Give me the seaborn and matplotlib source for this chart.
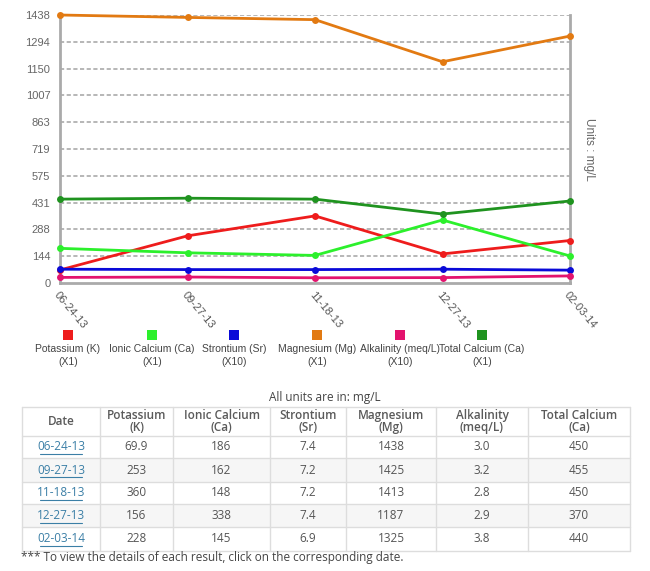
import matplotlib
matplotlib.use("Agg")
import matplotlib.pyplot as plt
from matplotlib.patches import Rectangle
import seaborn as sns
import pandas as pd
import numpy as np

dates = ['06-24-13', '09-27-13', '11-18-13', '12-27-13', '02-03-14']
potassium = [69.9, 253, 360, 156, 228]
ionic_ca = [186, 162, 148, 338, 145]
strontium = [7.4, 7.2, 7.2, 7.4, 6.9]
magnesium = [1438, 1425, 1413, 1187, 1325]
alkalinity = [3.0, 3.2, 2.8, 2.9, 3.8]
total_ca = [450, 455, 450, 370, 440]

series_names = ['Potassium (K)', 'Ionic Calcium (Ca)', 'Strontium (Sr)',
                'Magnesium (Mg)', 'Alkalinity (meq/L)', 'Total Calcium (Ca)']
multipliers = [1, 1, 10, 1, 10, 1]
series_colors = ['#ee1c1c', '#2cf02c', '#0a0ad8', '#e27a12', '#e3136e', '#1f931f']
ytick_labels = ['0', '144', '288', '431', '575', '719', '863', '1007', '1150', '1294', '1438']
ymax = 1438

headers = ['Date', 'Potassium\n(K)', 'Ionic Calcium\n(Ca)', 'Strontium\n(Sr)',
           'Magnesium\n(Mg)', 'Alkalinity\n(meq/L)', 'Total Calcium\n(Ca)']
table_cols = [
    ['69.9', '253', '360', '156', '228'],
    ['186', '162', '148', '338', '145'],
    ['7.4', '7.2', '7.2', '7.4', '6.9'],
    ['1438', '1425', '1413', '1187', '1325'],
    ['3.0', '3.2', '2.8', '2.9', '3.8'],
    ['450', '455', '450', '370', '440'],
]

# long frame for seaborn
values = [potassium, ionic_ca, strontium, magnesium, alkalinity, total_ca]
rows = []
for name, mult, vals in zip(series_names, multipliers, values):
    for i, v in enumerate(vals):
        rows.append({'idx': i, 'value': v * mult, 'series': name})
df = pd.DataFrame(rows)

sns.set_style("white")
plt.rcParams['font.family'] = ['Liberation Sans', 'DejaVu Sans']

W, H = 650, 571
fig = plt.figure(figsize=(W / 100, H / 100), dpi=100)
x0, x1, y0, y1 = 60, 570, 15, 283
ax = fig.add_axes([x0 / W, 1 - y1 / H, (x1 - x0) / W, (y1 - y0) / H])

sns.lineplot(data=df, x='idx', y='value', hue='series', hue_order=series_names,
             palette=dict(zip(series_names, series_colors)), marker='o',
             markersize=5, markeredgewidth=0, linewidth=2, ax=ax, legend=False)
for ln in ax.lines:
    ln.set_clip_on(False)
    ln.set_zorder(5)

ax.set_xlim(0, len(dates) - 1)
ax.set_ylim(0, ymax)
yt = np.linspace(0, ymax, len(ytick_labels))
ax.set_yticks(yt)
ax.set_yticklabels(ytick_labels, color='#666666', fontsize=8)
for y in yt[1:]:
    ax.axhline(y, color='#aaaaaa', lw=1.2, ls=(0, (2.5, 1.5)), zorder=1)
ax.set_xticks(range(len(dates)))
ax.set_xticklabels(dates, rotation=-50, ha='left', va='top', rotation_mode='anchor',
                   color='#555555', fontsize=8)
ax.tick_params(axis='both', length=0, pad=7)
ax.tick_params(axis='x', pad=5)
ax.set_xlabel('')
ax.set_ylabel('')
for side in ['left', 'bottom', 'right']:
    ax.spines[side].set_color('#aaaaaa')
    ax.spines[side].set_linewidth(2)
ax.spines['top'].set_visible(False)
ax.yaxis.set_label_position('right')
ax.set_ylabel('Units : mg/L', rotation=-90, color='#666666', fontsize=8.5, labelpad=18)

# overlay in pixel coordinates for legend and table
ov = fig.add_axes([0, 0, 1, 1])
ov.set_xlim(0, W)
ov.set_ylim(H, 0)
ov.axis('off')

leg_x = [68, 152, 234, 317, 400, 482]
for lx, name, mult, col in zip(leg_x, series_names, multipliers, series_colors):
    ov.add_patch(Rectangle((lx - 5, 330), 10, 10, color=col, lw=0))
    ov.text(lx, 349, name, ha='center', va='center', fontsize=7.5, color='#444444')
    ov.text(lx, 362, '(X%d)' % mult, ha='center', va='center', fontsize=7.5, color='#444444')

tfont = ['Open Sans', 'DejaVu Sans']
ov.text(325, 398, 'All units are in: mg/L', ha='center', va='center', fontsize=8.5,
        color='#444444', family=tfont)

col_edges = [22, 100, 173, 270, 346, 436, 528, 630]
row_edges = [407, 436, 458, 482, 504, 527, 551]
for r in range(len(dates)):
    if r % 2 == 1:
        ov.add_patch(Rectangle((col_edges[0], row_edges[r + 1]), col_edges[-1] - col_edges[0],
                               row_edges[r + 2] - row_edges[r + 1], color='#f6f6f6', lw=0))
for y in row_edges:
    ov.plot([col_edges[0], col_edges[-1]], [y, y], color='#dddddd', lw=1)
for x in col_edges:
    ov.plot([x, x], [row_edges[0], row_edges[-1]], color='#dddddd', lw=1)

for c, htxt in enumerate(headers):
    cx = (col_edges[c] + col_edges[c + 1]) / 2
    ov.text(cx, (row_edges[0] + row_edges[1]) / 2, htxt, ha='center', va='center',
            fontsize=8.5, fontweight='semibold', color='#5a5a5a', linespacing=0.95, family=tfont)

for r, d in enumerate(dates):
    cy = (row_edges[r + 1] + row_edges[r + 2]) / 2
    cx = (col_edges[0] + col_edges[1]) / 2
    ov.text(cx, cy, d, ha='center', va='center', fontsize=8.5, color='#3b7fa6', family=tfont)
    ov.plot([cx - 21, cx + 21], [cy + 7, cy + 7], color='#3b7fa6', lw=0.8)
    for c, colvals in enumerate(table_cols):
        cx = (col_edges[c + 1] + col_edges[c + 2]) / 2
        ov.text(cx, cy, colvals[r], ha='center', va='center', fontsize=8.5,
                color='#555555', family=tfont)

ov.text(21, 558, '*** To view the details of each result, click on the corresponding date.',
        ha='left', va='center', fontsize=8.5, color='#444444', family=tfont)

fig.savefig('out.png', dpi=100, facecolor='white')
